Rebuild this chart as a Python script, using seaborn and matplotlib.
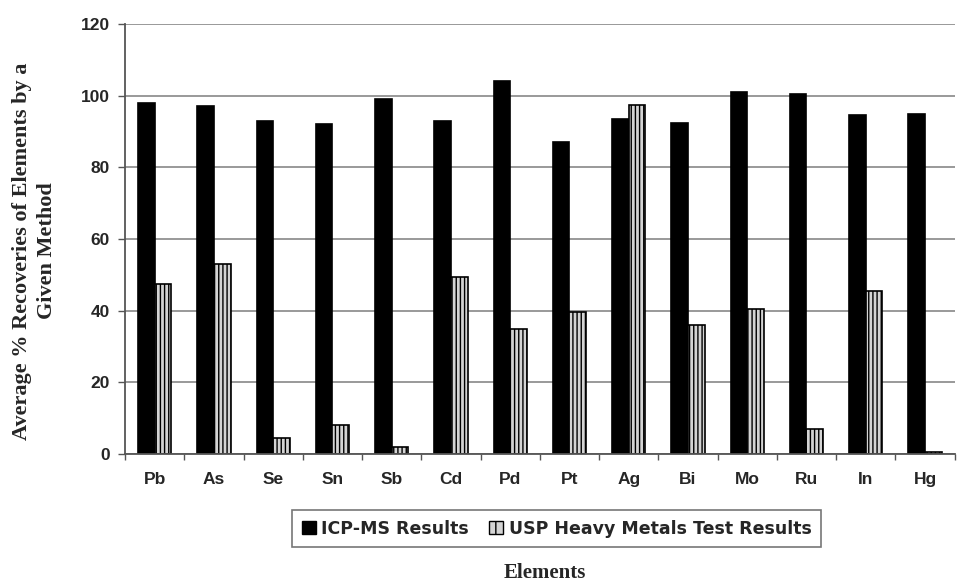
import matplotlib
matplotlib.use("Agg")
import matplotlib.pyplot as plt
import seaborn as sns
import pandas as pd

elements = ["Pb", "As", "Se", "Sn", "Sb", "Cd", "Pd", "Pt", "Ag", "Bi", "Mo", "Ru", "In", "Hg"]
icp_ms = [98, 97, 93, 92, 99, 93, 104, 87, 93.5, 92.5, 101, 100.5, 94.5, 95]
usp = [47.5, 53, 4.5, 8, 2, 49.5, 35, 39.5, 97.5, 36, 40.5, 7, 45.5, 0.5]
series = ["ICP-MS Results", "USP Heavy Metals Test Results"]
y_ticks = [0, 20, 40, 60, 80, 100, 120]

df = pd.DataFrame({
    "Element": elements * 2,
    "Value": icp_ms + usp,
    "Series": [series[0]] * len(elements) + [series[1]] * len(elements),
})

sns.set_theme(style="white")
plt.rcParams["font.family"] = ["Liberation Sans", "DejaVu Sans"]
plt.rcParams["hatch.color"] = "#555555"
plt.rcParams["hatch.linewidth"] = 1.0

fig = plt.figure(figsize=(9.58, 5.85), dpi=100)
ax = fig.add_axes([0.1305, 0.224, 0.866, 0.735])

sns.barplot(data=df, x="Element", y="Value", hue="Series", order=elements,
            hue_order=series, palette=["black", "#d4d4d4"], width=0.56,
            gap=0, saturation=1, ax=ax, legend=True)

n = len(elements)
for i, patch in enumerate(ax.patches[:2 * n]):
    patch.set_edgecolor("black")
    patch.set_linewidth(1.2)
    if i >= n:
        patch.set_hatch("||||")

ax.set_ylim(0, 120)
ax.set_yticks(y_ticks)
ax.set_xlim(-0.5, n - 0.5)
ax.yaxis.grid(True, color="#888888", linewidth=1.2)
ax.set_axisbelow(True)
for s in ["top", "right"]:
    ax.spines[s].set_visible(False)
for s in ["left", "bottom"]:
    ax.spines[s].set_color("#555555")
    ax.spines[s].set_linewidth(1.3)

ax.tick_params(axis="y", which="major", length=5, width=1, color="#555555",
               direction="out", left=True, labelsize=12.5, pad=6)
ax.tick_params(axis="x", which="major", length=0, labelsize=12.5, pad=13)
ax.set_xticks(range(n))
ax.set_xticks([i + 0.5 for i in range(-1, n)], minor=True)
ax.tick_params(axis="x", which="minor", length=4, width=1, color="#555555",
               direction="out", bottom=True)
for lbl in ax.get_xticklabels() + ax.get_yticklabels():
    lbl.set_fontweight("bold")

ax.set_xlabel("")
ax.set_ylabel("")

handles, labels = ax.get_legend_handles_labels()
ax.legend_.remove()
leg = fig.legend(handles, labels, loc="center", bbox_to_anchor=(0.581, 0.096),
                 ncol=2, frameon=True, fancybox=False, edgecolor="#555555",
                 prop={"family": "DejaVu Sans", "weight": "bold", "size": 12.5},
                 handlelength=0.8, handleheight=0.8, handletextpad=0.3,
                 columnspacing=1.2, borderpad=0.55)
leg.get_frame().set_linewidth(1.2)
for h in leg.legend_handles:
    h.set_edgecolor("black")
    h.set_linewidth(1.0)
leg.legend_handles[1].set_hatch("||")

fig.text(0.569, 0.02, "Elements", ha="center", va="center",
         family="Liberation Serif", weight="bold", fontsize=15)
fig.text(0.036, 0.571, "Average % Recoveries of Elements by a\nGiven Method",
         ha="center", va="center", rotation=90, family="Liberation Serif",
         weight="bold", fontsize=16, linespacing=1.35)

fig.savefig("out.png", dpi=100)
